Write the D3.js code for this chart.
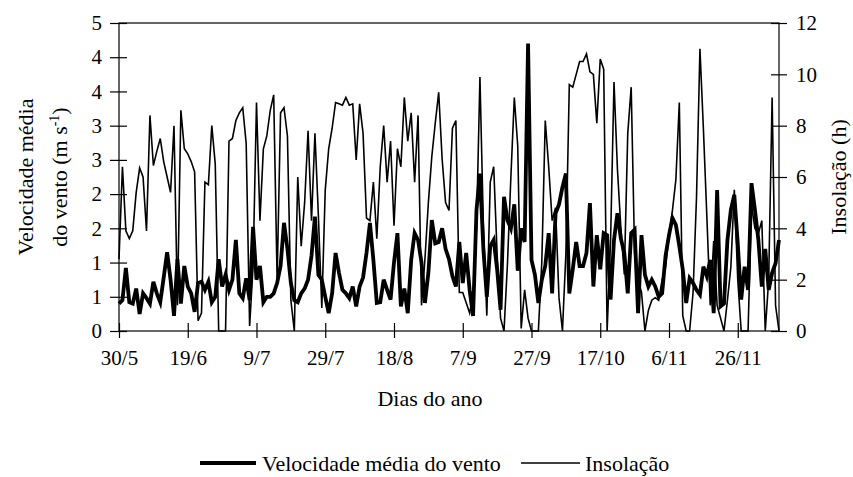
<!DOCTYPE html>
<html>
<head>
<meta charset="utf-8">
<script src="https://cdn.jsdelivr.net/npm/d3@7"></script>
<style>
  body { margin: 0; background: #fff; }
</style>
</head>
<body>
<div id="chart"></div>
<script>
// daily values, 30/5 .. 8/12
const startDate = new Date(2003, 4, 30);

const vento = [
  0.40, 0.45, 0.92, 0.42, 0.40, 0.62, 0.25, 0.55, 0.48, 0.40,
  0.72, 0.55, 0.42, 0.78, 1.15, 0.75, 0.22, 1.05, 0.40, 0.95,
  0.65, 0.55, 0.28, 0.70, 0.72, 0.60, 0.72, 0.42, 0.50, 1.05,
  0.65, 0.82, 0.60, 0.75, 1.33, 0.55, 0.48, 0.77, 0.45, 1.52,
  0.75, 0.95, 0.42, 0.50, 0.50, 0.55, 0.70, 0.95, 1.58, 1.20,
  0.70, 0.45, 0.42, 0.55, 0.62, 0.75, 1.10, 1.67, 0.82, 0.75,
  0.50, 0.26, 0.55, 1.14, 0.85, 0.60, 0.55, 0.48, 0.65, 0.36,
  0.65, 0.78, 1.14, 1.58, 1.04, 0.41, 0.42, 0.75, 0.60, 0.46,
  1.00, 1.43, 0.36, 0.62, 0.26, 1.04, 1.43, 1.33, 1.00, 0.41,
  0.85, 1.62, 1.28, 1.30, 1.50, 1.20, 1.05, 0.80, 0.65, 1.30,
  0.70, 1.14, 0.60, 0.22, 1.77, 2.30, 1.20, 0.50, 1.24, 1.33,
  0.90, 0.31, 1.96, 1.62, 1.50, 1.85, 0.88, 1.50, 1.30, 4.20,
  1.04, 0.82, 0.41, 0.75, 0.95, 1.43, 0.55, 1.72, 1.85, 2.10,
  2.30, 0.55, 0.90, 1.30, 0.95, 0.95, 1.14, 1.87, 0.65, 1.40,
  0.90, 1.43, 1.40, 0.46, 1.33, 1.72, 1.35, 1.14, 0.55, 1.43,
  1.48, 0.26, 1.40, 0.82, 0.65, 0.75, 0.65, 0.50, 0.55, 1.10,
  1.40, 1.65, 1.55, 1.24, 0.90, 0.41, 0.77, 0.70, 0.60, 0.53,
  0.94, 0.80, 1.04, 0.26, 2.06, 0.36, 0.40, 1.33, 1.77, 1.99,
  1.28, 0.46, 0.94, 0.60, 2.16, 1.77, 1.33, 0.65, 1.20, 0.60,
  0.85, 0.99, 1.33
];

const insolacao = [
  2.8, 6.4, 3.9, 3.6, 3.9, 5.4, 6.35, 6.0, 3.9, 8.4,
  6.45, 7.0, 7.5, 6.6, 6.0, 5.4, 8.0, 1.0, 8.6, 7.1,
  6.9, 6.6, 6.2, 0.4, 0.7, 5.8, 5.7, 8.0, 6.5, 0.0,
  0.0, 0.0, 7.4, 7.5, 8.2, 8.5, 8.7, 7.3, 0.2, 2.5,
  8.9, 4.3, 7.1, 7.6, 8.6, 9.2, 2.0, 8.5, 8.7, 7.6,
  1.2, 0.0, 6.0, 3.3, 5.0, 7.8, 4.3, 7.7, 4.5, 0.9,
  5.5, 7.1, 7.9, 8.9, 8.85, 8.8, 9.1, 8.8, 8.85, 6.66,
  8.85, 7.7, 4.4, 4.3, 5.8, 3.6, 6.4, 8.0, 5.8, 7.4,
  4.1, 7.1, 6.4, 9.1, 7.4, 8.5, 5.8, 8.4, 1.0, 2.8,
  5.0, 6.8, 8.1, 9.3, 6.7, 5.0, 4.7, 7.9, 8.2, 1.5,
  1.5, 1.1, 0.7, 1.4, 4.0, 9.9, 4.1, 0.6, 5.8, 6.4,
  3.0, 0.5, 0.0, 2.6, 6.0, 9.1, 7.2, 0.1, 1.6, 0.5,
  0.0, 0.0, 0.0, 2.7, 8.2, 6.4, 4.3, 4.8, 1.3, 0.0,
  3.0, 9.6, 9.5, 10.0, 10.5, 10.5, 10.8, 10.1, 10.0, 8.1,
  10.6, 10.2, 0.0, 3.5, 9.7, 6.3, 4.0, 2.2, 7.7, 9.5,
  3.0, 2.0, 1.5, 0.0, 0.8, 1.2, 1.3, 1.2, 2.0, 2.5,
  3.7, 4.7, 5.9, 8.9, 0.6, 0.0, 0.0, 1.5, 5.2, 11.0,
  7.9, 4.5, 1.0, 3.5, 1.0, 0.5, 0.0, 1.2, 2.5, 5.5,
  2.0, 0.0, 0.0, 0.0, 4.9, 4.0, 3.8, 4.3, 0.0, 2.0,
  9.1, 1.0, 0.0
];

const xTickLabels = ["30/5", "19/6", "9/7", "29/7", "18/8", "7/9", "27/9", "17/10", "6/11", "26/11"];
const leftTicks = [0, 0.5, 1, 1.5, 2, 2.5, 3, 3.5, 4, 4.5];
const leftTickLabels = ["0", "1", "1", "2", "2", "3", "3", "4", "4", "5"];
const rightTicks = [0, 2, 4, 6, 8, 10, 12];

const W = 853, H = 477;
const plot = { left: 119, right: 779, top: 23, bottom: 331 };
const FONT = "'Liberation Serif', 'Times New Roman', Tinos, 'DejaVu Serif', serif";

const dates = vento.map((d, i) => d3.timeDay.offset(startDate, i));
const xTickDates = xTickLabels.map((d, i) => d3.timeDay.offset(startDate, i * 20));

const x = d3.scaleTime()
  .domain([dates[0], dates[dates.length - 1]])
  .range([plot.left, plot.right]);
const yL = d3.scaleLinear().domain([0, 4.5]).range([plot.bottom, plot.top]);
const yR = d3.scaleLinear().domain([0, 12]).range([plot.bottom, plot.top]);

const svg = d3.select("#chart").append("svg")
  .attr("width", W).attr("height", H)
  .attr("font-family", FONT);

// frame
svg.append("rect")
  .attr("x", plot.left).attr("y", plot.top)
  .attr("width", plot.right - plot.left).attr("height", plot.bottom - plot.top)
  .attr("fill", "none").attr("stroke", "#000").attr("stroke-width", 1.2);

function styleAxis(g) {
  g.attr("font-family", FONT).attr("font-size", 21);
  g.select(".domain").remove();
  g.selectAll(".tick line").attr("stroke-width", 1.2);
  g.selectAll(".tick text").attr("fill", "#000");
}

// left axis
const gL = svg.append("g")
  .attr("transform", `translate(${plot.left},0)`)
  .call(d3.axisLeft(yL).tickValues(leftTicks).tickSizeInner(9).tickSizeOuter(0).tickPadding(8)
    .tickFormat((d, i) => leftTickLabels[i]));
styleAxis(gL);
gL.selectAll(".tick line").attr("x1", 8);

// right axis
const gR = svg.append("g")
  .attr("transform", `translate(${plot.right},0)`)
  .call(d3.axisRight(yR).tickValues(rightTicks).tickSizeInner(8).tickSizeOuter(0).tickPadding(9));
styleAxis(gR);
gR.selectAll(".tick line").attr("x1", -8);

// bottom axis
const gB = svg.append("g")
  .attr("transform", `translate(0,${plot.bottom})`)
  .call(d3.axisBottom(x).tickValues(xTickDates).tickSizeInner(7).tickSizeOuter(0).tickPadding(12)
    .tickFormat((d, i) => xTickLabels[i]));
styleAxis(gB);
gB.selectAll(".tick line").attr("y1", -8);

// series
const lineIns = d3.line().x((d, i) => x(dates[i])).y(d => yR(d));
const lineVento = d3.line().x((d, i) => x(dates[i])).y(d => yL(d));

svg.append("path")
  .datum(insolacao)
  .attr("d", lineIns)
  .attr("fill", "none").attr("stroke", "#000").attr("stroke-width", 1.6);

svg.append("path")
  .datum(vento)
  .attr("d", lineVento)
  .attr("fill", "none").attr("stroke", "#000").attr("stroke-width", 3.8);

// axis titles
svg.append("text")
  .attr("transform", "translate(33,177) rotate(-90)")
  .attr("text-anchor", "middle").attr("font-size", 22)
  .text("Velocidade média");
const t2 = svg.append("text")
  .attr("transform", "translate(67,177) rotate(-90)")
  .attr("text-anchor", "middle").attr("font-size", 22);
t2.append("tspan").text("do vento (m s");
t2.append("tspan").attr("dy", -8).attr("font-size", 14).text("-1");
t2.append("tspan").attr("dy", 8).text(")");

svg.append("text")
  .attr("transform", "translate(846,177) rotate(-90)")
  .attr("text-anchor", "middle").attr("font-size", 22)
  .text("Insolação (h)");

svg.append("text")
  .attr("x", 430).attr("y", 406)
  .attr("text-anchor", "middle").attr("font-size", 22)
  .text("Dias do ano");

// legend
const legend = [
  { label: "Velocidade média do vento", width: 3.8, x1: 200, x2: 256, tx: 262 },
  { label: "Insolação", width: 1.6, x1: 521, x2: 580, tx: 585 }
];
const lg = svg.append("g");
legend.forEach(l => {
  lg.append("line")
    .attr("x1", l.x1).attr("x2", l.x2).attr("y1", 463).attr("y2", 463)
    .attr("stroke", "#000").attr("stroke-width", l.width);
  lg.append("text")
    .attr("x", l.tx).attr("y", 471)
    .attr("font-size", 22)
    .text(l.label);
});
</script>
</body>
</html>
